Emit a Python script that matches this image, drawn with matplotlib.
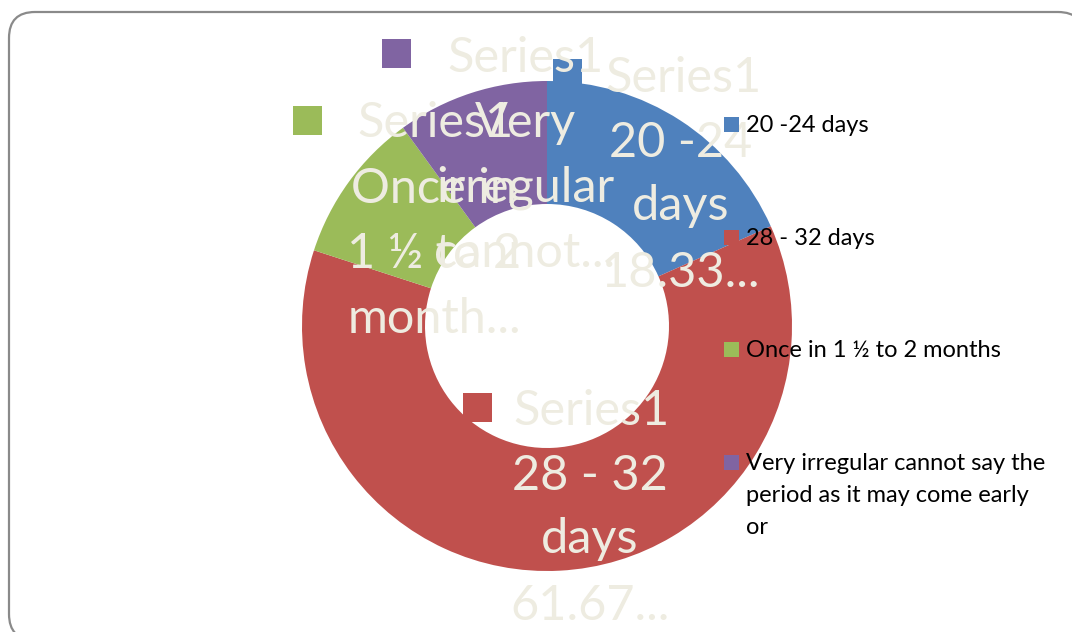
import matplotlib
matplotlib.use("Agg")
import matplotlib.pyplot as plt
from matplotlib.patches import FancyBboxPatch, Rectangle

# ---- data ----
categories = ["20 -24 days", "28 - 32 days", "Once in 1 \u00bd to 2 months",
              "Very irregular cannot say the period as it may come early or"]
values = [18.33, 61.67, 10.0, 10.0]
series_name = "Series1"
colors = ["#4F81BD", "#C0504D", "#9BBB59", "#8064A2"]
legend_labels = ["20 -24 days", "28 - 32 days", "Once in 1 \u00bd to 2 months",
                 "Very irregular cannot say the\nperiod as it may come early\nor"]
# data label text lines (as truncated in the original)
label_lines = [
    ["20 -24", "days", "18.33..."],
    ["28 - 32", "days", "61.67..."],
    ["Once in", "1 \u00bd to 2", "month..."],
    ["Very", "irregular", "cannot..."],
]

W, H = 1072, 632
FONT = "Lato"
LABEL_COLOR = "#EEECE1"


def Y(y):
    return H - y


fig = plt.figure(figsize=(W / 100, H / 100), dpi=100)
ax = fig.add_axes([0, 0, 1, 1])

# outer rounded border (extends past the right and bottom edges)
border = FancyBboxPatch((9, Y(640)), 1084 - 9, 640 - 12,
                        boxstyle="round,pad=0,rounding_size=26",
                        facecolor="white", edgecolor="#8A8A8A", linewidth=1.6,
                        zorder=0, clip_on=True)
ax.add_patch(border)

# donut
wedges, _ = ax.pie(values, colors=colors, startangle=90, counterclock=False,
                   radius=245, center=(547, Y(326)),
                   wedgeprops=dict(width=123, edgecolor="none"), frame=True)

ax.set_xlim(0, W)
ax.set_ylim(0, H)
ax.set_aspect("equal")
ax.axis("off")

# data labels
label_layout = [
    dict(sq=(567, 73), ser=(605, 92), cx=681, base=[157, 220, 287]),
    dict(sq=(477, 407), ser=(513, 425), cx=590, base=[490, 553, 620]),
    dict(sq=(307, 120), ser=(357, 137), cx=434, base=[203, 268, 333]),
    dict(sq=(396, 53), ser=(447, 72), cx=525, base=[137, 202, 267]),
]
fs_label = 35
for i, lay in enumerate(label_layout):
    sx, sy = lay["sq"]
    ax.add_patch(Rectangle((sx - 14.5, Y(sy) - 14.5), 29, 29,
                           facecolor=colors[i], edgecolor="none", zorder=3))
    ax.text(lay["ser"][0], Y(lay["ser"][1]), series_name, fontsize=fs_label,
            family=FONT, color=LABEL_COLOR, ha="left", va="baseline", zorder=4)
    for line, b in zip(label_lines[i], lay["base"]):
        ax.text(lay["cx"], Y(b), line, fontsize=fs_label, family=FONT,
                color=LABEL_COLOR, ha="center", va="baseline", zorder=4)

# legend (manual, to keep keys aligned with the first text line)
fs_leg = 17
leg_sq_y = [117, 230, 342, 455]
line_gap = 32
for i, lab in enumerate(legend_labels):
    ax.add_patch(Rectangle((724, Y(leg_sq_y[i] + 15)), 15, 15,
                           facecolor=colors[i], edgecolor="none", zorder=5))
    for k, ln in enumerate(lab.split("\n")):
        ax.text(746, Y(leg_sq_y[i] + 15 + k * line_gap), ln, fontsize=fs_leg,
                family=FONT, color="black", ha="left", va="baseline", zorder=6)

fig.savefig("out.png", dpi=100)
